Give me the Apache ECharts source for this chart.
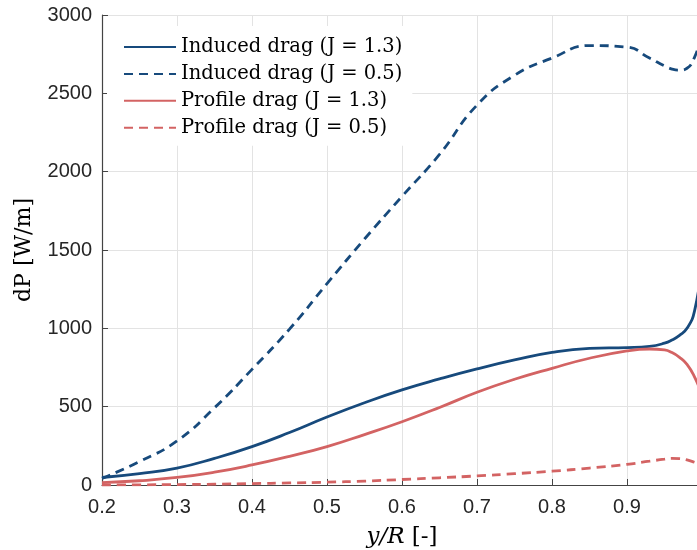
<!DOCTYPE html>
<html lang="en">
<head>
    <meta charset="UTF-8">
    <title>dP</title>
    <script src="https://cdn.jsdelivr.net/npm/echarts@6/dist/echarts.min.js"></script>
</head>
<body style="margin:0">
<div id="main" style="width: 697px;height:550px;"></div>
<script type="text/javascript">
    var myChart = echarts.init(document.getElementById('main'));

    // y/R positions
    var xs = [0.2, 0.25, 0.3, 0.35, 0.4, 0.45, 0.5, 0.55, 0.6, 0.65, 0.7, 0.75, 0.8, 0.85, 0.9, 0.93, 0.95, 0.96, 0.97, 0.98, 0.99, 1.0];
    var inducedHigh = [48, 73, 108, 170, 245, 335, 434, 525, 607, 677, 741, 798, 847, 872, 877, 885, 905, 925, 955, 1000, 1110, 1420];
    var inducedLow = [42, 150, 281, 493, 738, 995, 1285, 1570, 1842, 2110, 2425, 2615, 2725, 2805, 2795, 2725, 2675, 2655, 2648, 2660, 2730, 2870];
    var profileHigh = [15, 27, 48, 82, 128, 183, 245, 322, 404, 495, 592, 675, 745, 809, 856, 868, 862, 845, 815, 770, 690, 575];
    var profileLow = [0, 1, 3, 5, 9, 13, 18, 25, 35, 46, 58, 72, 88, 108, 132, 152, 165, 170, 168, 160, 145, 128];
    var names = ['Induced drag (J = 1.3)', 'Induced drag (J = 0.5)', 'Profile drag (J = 1.3)', 'Profile drag (J = 0.5)'];

    var blue = '#174a7c';
    var red = '#d36363';
    var dash = [9, 6];

    function pairs(ys) {
        return xs.map(function (x, i) { return [x, ys[i]]; });
    }

    function line(name, ys, color, type) {
        return {
            name: name,
            type: 'line',
            data: pairs(ys),
            smooth: 0.5,
            symbol: 'none',
            animation: false,
            lineStyle: { color: color, width: 2.8, type: type },
            itemStyle: { color: color }
        };
    }

    var tickFont = { fontFamily: 'Liberation Sans', fontSize: 20, color: '#262626' };

    option = {
        backgroundColor: '#fff',
        grid: { left: 102, right: -5, top: 15, bottom: 65, outerBoundsMode: 'none', containLabel: false },
        legend: {
            left: 107,
            top: 26,
            orient: 'vertical',
            itemWidth: 52,
            itemHeight: 14,
            itemGap: 6.9,
            padding: [11, 10, 8, 16],
            backgroundColor: '#fff',
            itemStyle: { opacity: 0 },
            textStyle: { fontFamily: 'DejaVu Serif', fontSize: 19.5, lineHeight: 20, color: '#000' },
            data: names
        },
        xAxis: {
            type: 'value',
            min: 0.2,
            max: 1,
            interval: 0.1,
            name: '{i|y/R} [-]',
            nameLocation: 'middle',
            nameGap: 41,
            nameTextStyle: {
                fontFamily: 'DejaVu Serif', fontSize: 23, color: '#000',
                rich: { i: { fontFamily: 'DejaVu Serif', fontStyle: 'italic', fontSize: 23, color: '#000' } }
            },
            axisLine: { lineStyle: { color: '#444', width: 1.2 } },
            axisTick: { inside: true, length: 6, lineStyle: { color: '#444' } },
            axisLabel: Object.assign({ margin: 12, formatter: function (v) { return v === 1 ? '1' : v.toFixed(1); } }, tickFont),
            splitLine: { lineStyle: { color: '#e3e3e3', width: 1 } }
        },
        yAxis: {
            type: 'value',
            min: 0,
            max: 3000,
            interval: 500,
            name: 'dP [W/m]',
            nameLocation: 'middle',
            nameGap: 67,
            nameRotate: 90,
            nameTextStyle: { fontFamily: 'DejaVu Serif', fontSize: 22, color: '#000' },
            axisLine: { show: true, lineStyle: { color: '#444', width: 1.2 } },
            axisTick: { show: true, inside: true, length: 6, lineStyle: { color: '#444' } },
            axisLabel: Object.assign({ margin: 10, formatter: function (v) { return String(v); } }, tickFont),
            splitLine: { lineStyle: { color: '#e3e3e3', width: 1 } }
        },
        series: [
            line(names[0], inducedHigh, blue, 'solid'),
            line(names[1], inducedLow, blue, dash),
            line(names[2], profileHigh, red, 'solid'),
            line(names[3], profileLow, red, dash)
        ]
    };

    myChart.setOption(option);
</script>
</body>
</html>
